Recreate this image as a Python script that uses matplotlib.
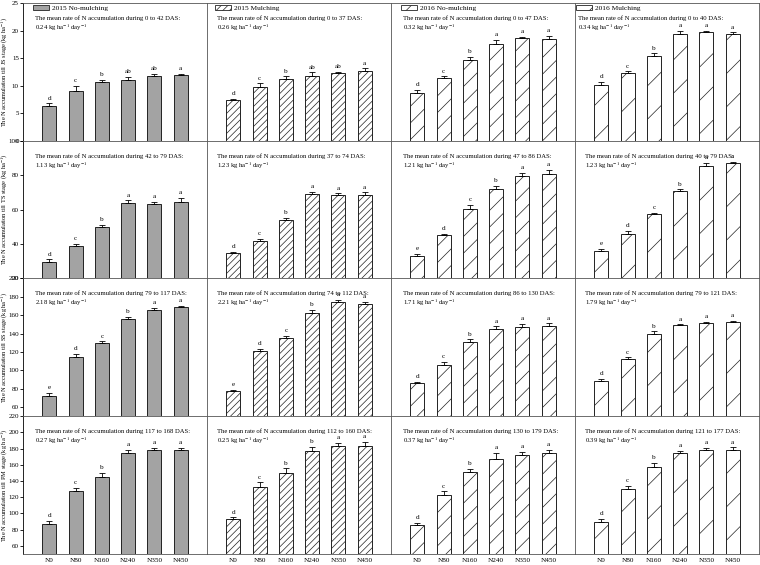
import matplotlib
matplotlib.use('Agg')
import matplotlib.pyplot as plt
from matplotlib.patches import Patch

plt.rcParams['font.family'] = ['Liberation Serif', 'DejaVu Serif']
plt.rcParams['mathtext.fontset'] = 'stix'
plt.rcParams['hatch.linewidth'] = 0.5

categories = ['N0', 'N80', 'N160', 'N240', 'N350', 'N450']
treatments = ['2015 No-mulching', '2015 Mulching', '2016 No-mulching', '2016 Mulching']
stages = ['JS', 'TS', 'SS', 'PM']

# order inside each stage list: 2015 No-mulching, 2015 Mulching, 2016 No-mulching, 2016 Mulching
js_values = [[6.3, 9.0, 10.7, 11.1, 11.7, 12.0],
             [7.4, 9.8, 11.2, 11.8, 12.3, 12.6],
             [8.7, 11.3, 14.6, 17.6, 18.7, 18.5],
             [10.1, 12.3, 15.4, 19.3, 19.8, 19.3]]
js_errors = [[0.5, 0.9, 0.3, 0.5, 0.5, 0.2],
             [0.25, 0.6, 0.5, 0.6, 0.2, 0.55],
             [0.55, 0.4, 0.6, 0.7, 0.15, 0.5],
             [0.6, 0.3, 0.45, 0.65, 0.2, 0.35]]
js_letters = [['d', 'c', 'b', 'ab', 'ab', 'a'],
              ['d', 'c', 'b', 'ab', 'ab', 'a'],
              ['d', 'c', 'b', 'a', 'a', 'a'],
              ['d', 'c', 'b', 'a', 'a', 'a']]

ts_values = [[29.6, 38.8, 49.8, 63.6, 63.4, 64.5],
             [34.7, 41.7, 53.7, 69.0, 68.4, 68.6],
             [32.8, 45.0, 60.1, 71.9, 79.8, 80.6],
             [35.9, 46.1, 57.4, 70.9, 85.5, 87.2]]
ts_errors = [[1.5, 1.3, 1.5, 1.7, 1.2, 2.5],
             [0.8, 1.2, 1.4, 1.2, 1.0, 1.4],
             [1.7, 1.0, 2.5, 1.7, 1.4, 2.3],
             [1.2, 1.5, 0.8, 0.8, 1.7, 0.6]]
ts_letters = [['d', 'c', 'b', 'a', 'a', 'a'],
              ['d', 'c', 'b', 'a', 'a', 'a'],
              ['e', 'd', 'c', 'b', 'a', 'a'],
              ['e', 'd', 'c', 'b', 'a', 'a']]

ss_values = [[72.2, 114.8, 129.4, 156.0, 166.1, 168.7],
             [77.0, 121.0, 134.8, 162.9, 174.9, 172.7],
             [86.1, 106.1, 131.2, 145.4, 146.9, 148.7],
             [88.2, 112.3, 139.9, 149.0, 151.6, 153.0]]
ss_errors = [[2.9, 3.3, 2.2, 2.5, 2.2, 1.8],
             [1.8, 2.2, 2.9, 2.5, 2.2, 1.8],
             [1.5, 3.3, 2.5, 2.5, 3.6, 2.5],
             [2.2, 1.8, 2.5, 1.1, 1.5, 0.7]]
ss_letters = [['e', 'd', 'c', 'b', 'a', 'a'],
              ['e', 'd', 'c', 'b', 'a', 'a'],
              ['d', 'c', 'b', 'a', 'a', 'a'],
              ['d', 'c', 'b', 'a', 'a', 'a']]

pm_values = [[87.2, 127.2, 145.4, 174.2, 177.9, 177.9],
             [92.6, 133.0, 150.3, 177.5, 183.3, 182.9],
             [85.2, 122.9, 151.0, 167.5, 171.6, 174.1],
             [89.4, 129.9, 157.6, 174.5, 177.8, 178.7]]
pm_errors = [[4.1, 4.1, 4.9, 4.5, 2.9, 3.3],
             [2.5, 5.4, 5.4, 4.5, 4.1, 5.8],
             [3.3, 4.5, 4.5, 7.0, 4.1, 4.5],
             [3.7, 4.5, 5.0, 2.9, 2.9, 2.9]]
pm_letters = [['d', 'c', 'b', 'a', 'a', 'a'],
              ['d', 'c', 'b', 'b', 'a', 'a'],
              ['d', 'c', 'b', 'a', 'a', 'a'],
              ['d', 'c', 'b', 'a', 'a', 'a']]

js_periods = ['0 to 42', '0 to 37', '0 to 47', '0 to 40']
ts_periods = ['42 to 79', '37 to 74', '47 to 86', '40 to 79']
ss_periods = ['79 to 117', '74 to 112', '86 to 130', '79 to 121']
pm_periods = ['117 to 168', '112 to 160', '130 to 179', '121 to 177']
js_rates = ['0.24', '0.26', '0.32', '0.34']
ts_rates = ['1.13', '1.23', '1.21', '1.23']
ss_rates = ['2.18', '2.21', '1.71', '1.79']
pm_rates = ['0.27', '0.25', '0.37', '0.39']

y_limits = [(0, 25), (20, 100), (50, 200), (50, 220)]
y_ticks = [[0, 5, 10, 15, 20, 25], [20, 40, 60, 80, 100],
           [60, 80, 100, 120, 140, 160, 180, 200],
           [60, 80, 100, 120, 140, 160, 180, 200, 220]]

all_values = [js_values, ts_values, ss_values, pm_values]
all_errors = [js_errors, ts_errors, ss_errors, pm_errors]
all_letters = [js_letters, ts_letters, ss_letters, pm_letters]
all_periods = [js_periods, ts_periods, ss_periods, pm_periods]
all_rates = [js_rates, ts_rates, ss_rates, pm_rates]

facecolors = ['#a3a3a3', 'white', 'white', 'white']
hatches = [None, '/////', '//', '/']

W, H = 760, 565
fig = plt.figure(figsize=(W / 100, H / 100), dpi=100)

left0 = 23
col_w = 184
top0 = 3
row_h = 137.75
fs = 4.8
tick_fs = 5.0
text_x = [[0.065, 0.055, 0.065, 0.015],
          [0.065, 0.055, 0.065, 0.055],
          [0.065, 0.055, 0.065, 0.055],
          [0.065, 0.055, 0.065, 0.055]]

x = list(range(len(categories)))
for r in range(4):
    for c in range(4):
        l = (left0 + col_w * c) / W
        b = 1 - (top0 + row_h * (r + 1)) / H
        ax = fig.add_axes([l, b, col_w / W, row_h / H])
        vals = all_values[r][c]
        errs = all_errors[r][c]
        ax.bar(x, vals, width=0.53, color=facecolors[c], edgecolor='#222222',
               linewidth=0.7, hatch=hatches[c], zorder=2)
        ax.errorbar(x, vals, yerr=[[0] * 6, errs], fmt='none', ecolor='black',
                    elinewidth=0.6, capsize=2.2, capthick=0.6, zorder=3)
        for xi, v, e, lt in zip(x, vals, errs, all_letters[r][c]):
            ax.annotate(lt, (xi, v + e), xytext=(0, 2), textcoords='offset points',
                        ha='center', va='bottom', fontsize=fs + 0.3)
        ax.set_xlim(-1.0, 6.0)
        ax.set_ylim(*y_limits[r])
        ax.set_yticks(y_ticks[r])
        ax.set_xticks(x)
        if c == 0:
            ax.tick_params(axis='y', direction='out', length=2, width=0.6,
                           labelsize=tick_fs, pad=1)
            ax.set_ylabel('The N accumulation till %s stage (kg ha$^{-1}$)' % stages[r],
                          fontsize=4.6)
            ax.yaxis.label.set_va('center')
            ax.yaxis.set_label_coords(-18.3 / col_w, 0.5)
        else:
            ax.tick_params(axis='y', left=False, labelleft=False)
        if r == 3:
            ax.set_xticklabels(categories)
            ax.tick_params(axis='x', length=0, labelsize=tick_fs + 0.2, pad=3)
        else:
            ax.tick_params(axis='x', bottom=False, labelbottom=False)
        for name, sp in ax.spines.items():
            sp.set_linewidth(0.6)
            sp.set_color('#555555')
        if c == 0:
            ax.spines['left'].set_color('black')
        tx = text_x[r][c]
        ax.text(tx, 1 - 15 / row_h,
                'The mean rate of N accumulation during %s DAS:' % all_periods[r][c],
                transform=ax.transAxes, fontsize=fs, ha='left', va='center')
        ax.text(tx, 1 - 24.5 / row_h,
                '%s kg ha$^{-1}$ day$^{-1}$' % all_rates[r][c],
                transform=ax.transAxes, fontsize=fs, ha='left', va='center')
        if r == 0:
            handle = Patch(facecolor=facecolors[c], edgecolor='#222222',
                           linewidth=0.6, hatch=hatches[c])
            ax.legend([handle], [treatments[c]], loc='center left',
                      bbox_to_anchor=(tx - 0.01, 1 - 5 / row_h), frameon=False,
                      fontsize=fs + 0.5, handlelength=2.2, handleheight=0.7,
                      handletextpad=0.4, borderpad=0, borderaxespad=0)

fig.savefig('out.png', dpi=100)
